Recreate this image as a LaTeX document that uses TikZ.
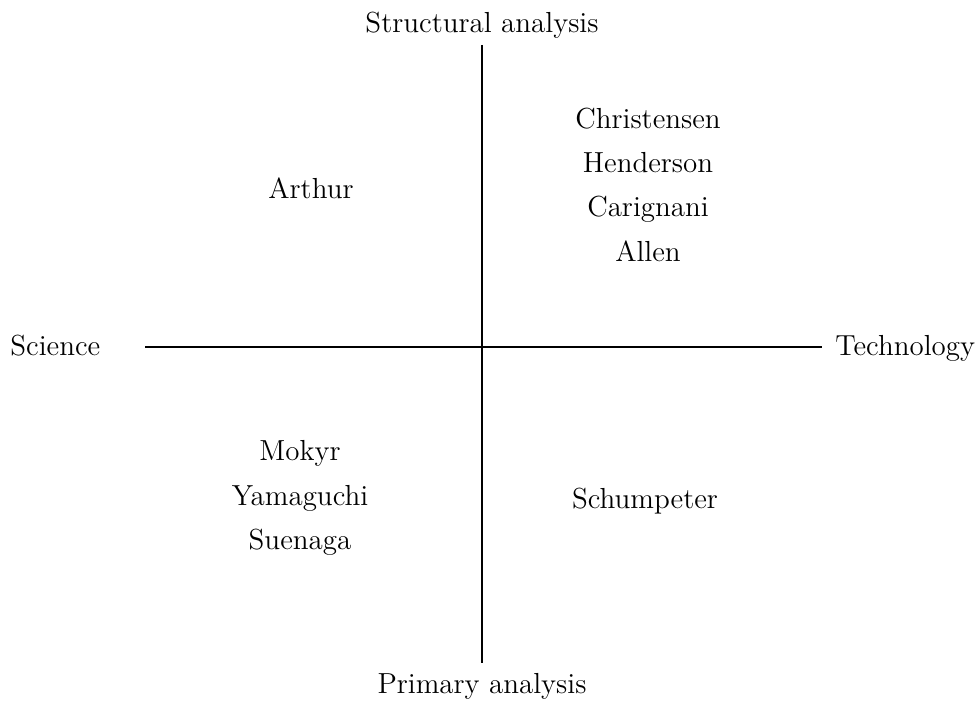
\documentclass[tikz,border=0pt]{standalone}
\usepackage{tikz}

\begin{document}
\begin{tikzpicture}[x=0.5pt, y=-0.5pt,
    every node/.style = {font=\fontsize{14.5}{17}\selectfont, inner sep=0pt},
    axislabel/.style={anchor=base},
    author/.style={anchor=base},
    axisline/.style={line width=0.6pt},
    ]

    \useasboundingbox (0,0) rectangle (977,701);

    % axes
    \coordinate (top) at (482,45);
    \coordinate (bottom) at (482,663);
    \coordinate (left) at (145,347);
    \coordinate (right) at (822,347);
    \draw[axisline] (top) -- (bottom);
    \draw[axisline] (left) -- (right);

    \node [axislabel] (struct) at (482,33) {Structural analysis};
    \node [axislabel] (prim) at (482,693) {Primary analysis};
    \node [axislabel, anchor=base west] (sci) at (10,355) {Science};
    \node [axislabel, anchor=base west] (tech) at (835,355) {Technology};

    % quadrants
    \node [author] (arthur) at (311,198) {Arthur};

    \node [author] (christensen) at (648,128) {Christensen};
    \node [author] (henderson) at (648,172) {Henderson};
    \node [author] (carignani) at (648,216) {Carignani};
    \node [author] (allen) at (648,261) {Allen};

    \node [author] (mokyr) at (300,460) {Mokyr};
    \node [author] (yamaguchi) at (300,505) {Yamaguchi};
    \node [author] (suenaga) at (300,549) {Suenaga};

    \node [author] (schumpeter) at (645,508) {Schumpeter};

\end{tikzpicture}
\end{document}
